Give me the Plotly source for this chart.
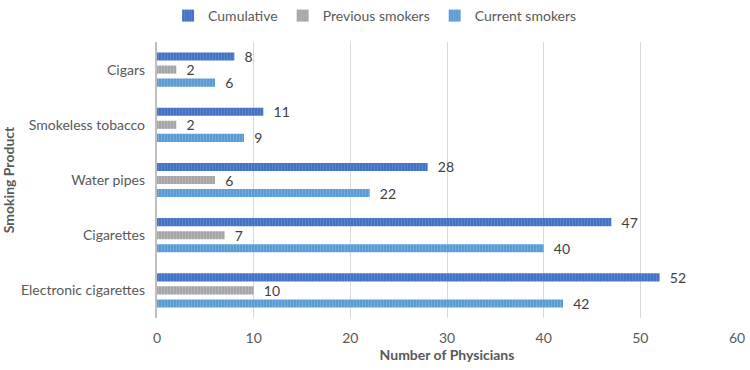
import plotly.graph_objects as go

categories = ["Cigars", "Smokeless tobacco", "Water pipes", "Cigarettes", "Electronic cigarettes"]
cumulative = [8, 11, 28, 47, 52]
previous = [2, 2, 6, 7, 10]
current = [6, 9, 22, 40, 42]
x_ticks = [0, 10, 20, 30, 40, 50, 60]

FONT = "Lato, 'Open Sans', sans-serif"
series = [
    ("Current smokers", current, "#5B9BD5", "#8DBCE6"),
    ("Previous smokers", previous, "#A5A5A5", "#C8C8C8"),
    ("Cumulative", cumulative, "#4472C4", "#7396D8"),
]

fig = go.Figure()
for name, vals, col, fg in series:
    fig.add_trace(go.Bar(
        y=categories, x=vals, name=name, orientation="h",
        marker=dict(color=col, line=dict(width=0),
                    pattern=dict(shape="|", size=3, solidity=0.35, fgcolor=fg, bgcolor=col)),
        text=["\u00a0\u00a0" + str(v) for v in vals], textposition="outside", constraintext="none",
        textfont=dict(size=14, color="#404040", family=FONT),
        cliponaxis=False,
    ))

fig.update_layout(
    width=750, height=370,
    margin=dict(l=157, r=13, t=42, b=52),
    barmode="group", bargap=0.29, bargroupgap=0.38,
    plot_bgcolor="white", paper_bgcolor="white",
    font=dict(family=FONT, color="#595959", size=14),
    legend=dict(orientation="h", x=0.376, xanchor="center", xref="paper",
                y=1.0, yanchor="top", yref="container", traceorder="reversed",
                font=dict(size=14, color="#595959"), itemwidth=30),
    xaxis=dict(range=[0, 60], tickvals=x_ticks, showgrid=True, gridcolor="#D9D9D9",
               zeroline=False, showline=False, ticks="", automargin=False,
               ticklabelstandoff=10,
               tickfont=dict(size=14, color="#595959"),
               title=dict(text="<b>Number of Physicians</b>", font=dict(size=14, color="#595959"), standoff=3)),
    yaxis=dict(categoryorder="array", categoryarray=categories[::-1], automargin=False,
               showline=True, linecolor="#BFBFBF", linewidth=2, ticks="",
               tickfont=dict(size=14, color="#595959"), ticksuffix="  ",
               title=dict(text="<b>Smoking Product</b>", font=dict(size=14, color="#595959"), standoff=4)),
)
fig.write_html("out.html", config={"displayModeBar": False},
               post_script="document.body.style.margin='0';")
